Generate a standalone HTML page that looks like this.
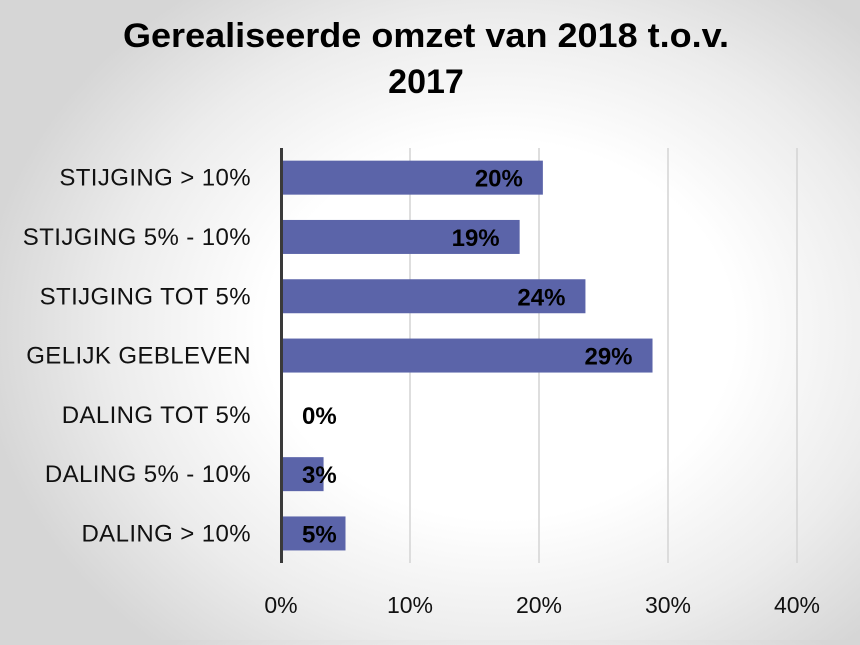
<!DOCTYPE html>
<html><head><meta charset="utf-8"><style>
html,body{margin:0;padding:0}
body{width:860px;height:640px;overflow:hidden;background:radial-gradient(ellipse 520px 420px at 500px 330px,#ffffff 0%,#ffffff 45%,#ececec 75%,#d6d6d6 100%);font-family:"Liberation Sans","DejaVu Sans",sans-serif}
</style></head><body>
<svg width="860" height="640">
<text x="426" y="47" text-anchor="middle" font-size="34" font-weight="bold" fill="#000" textLength="606" lengthAdjust="spacingAndGlyphs">Gerealiseerde omzet van 2018 t.o.v.</text>
<text x="426" y="93" text-anchor="middle" font-size="34" font-weight="bold" fill="#000">2017</text>
<g id="grid"></g><g id="bars"></g><g id="cats"></g><g id="ticks"></g>
<line x1="281.5" y1="148" x2="281.5" y2="563" stroke="#3a3a3a" stroke-width="3"/>
</svg>
<script>
const categories=["STIJGING > 10%","STIJGING 5% - 10%","STIJGING TOT 5%","GELIJK GEBLEVEN","DALING TOT 5%","DALING 5% - 10%","DALING > 10%"];
const values=[20.3,18.5,23.6,28.8,0,3.3,5.0];
const valueLabels=["20%","19%","24%","29%","0%","3%","5%"];
const tickValues=[0,10,20,30,40];
const tickLabels=["0%","10%","20%","30%","40%"];
const NS="http://www.w3.org/2000/svg";
const x=v=>281+v*12.9;
const rowH=59.3, top0=148;
const yc=i=>top0+rowH*(i+0.5);
function mk(t,a,p){const e=document.createElementNS(NS,t);for(const k in a)e.setAttribute(k,a[k]);p.appendChild(e);return e;}
const g=document.getElementById('grid'),b=document.getElementById('bars'),c=document.getElementById('cats'),tk=document.getElementById('ticks');
tickValues.forEach((v,i)=>{
 if(v>0){const l=mk('line',{x1:x(v),x2:x(v),y1:148,y2:563,stroke:'#d4d4d4','stroke-width':1.5},g);
 
 }
 const t=mk('text',{x:x(v),y:613,'text-anchor':'middle','font-size':23,fill:'#111'},tk);t.textContent=tickLabels[i];
 
 
});
categories.forEach((cat,i)=>{
 const cy=yc(i);
 const t=mk('text',{x:251,y:cy+8,'text-anchor':'end','font-size':24,'letter-spacing':0.4,fill:'#111'},c);t.textContent=cat;
 
 
 const w=x(values[i])-x(0);
 if(w>0){const r=mk('rect',{x:x(0),y:cy-17,width:w,height:34,fill:'#5b64a9'},b);
 
 }
 const big=w>80;
 const vl=mk('text',{x:big?x(values[i])-20:x(0)+21,y:cy+9,'text-anchor':big?'end':'start','font-size':24,'font-weight':'bold',fill:'#000'},b);
 vl.textContent=valueLabels[i];
 
 
});
</script>
</body></html>
